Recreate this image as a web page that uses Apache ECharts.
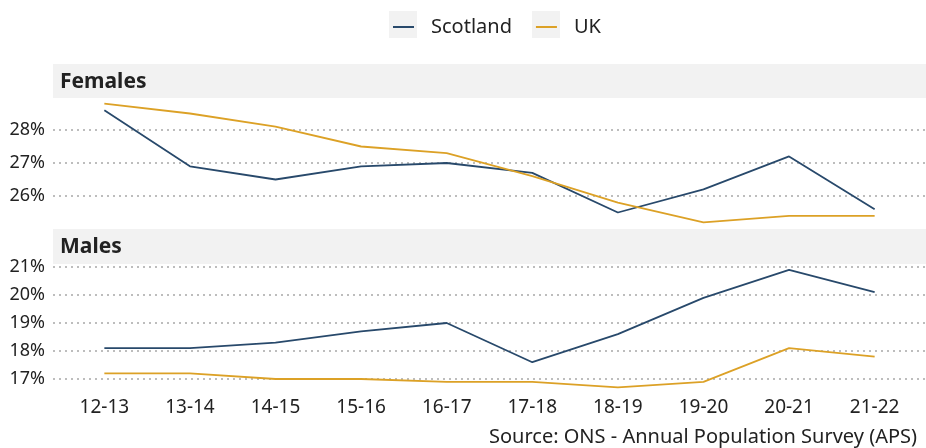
<!DOCTYPE html>
<html>
<head>
<meta charset="utf-8">
<script src="https://cdn.jsdelivr.net/npm/echarts@6/dist/echarts.min.js"></script>
<style>
  html, body { margin: 0; padding: 0; background: #fff; }
  #chart { width: 926px; height: 448px; }
</style>
</head>
<body>
<div id="chart"></div>
<script>
const years = ['12-13', '13-14', '14-15', '15-16', '16-17', '17-18', '18-19', '19-20', '20-21', '21-22'];

const femalesScotland = [28.6, 26.9, 26.5, 26.9, 27.0, 26.7, 25.5, 26.2, 27.2, 25.6];
const femalesUK = [28.8, 28.5, 28.1, 27.5, 27.3, 26.6, 25.8, 25.2, 25.4, 25.4];
const malesScotland = [18.1, 18.1, 18.3, 18.7, 19.0, 17.6, 18.6, 19.9, 20.9, 20.1];
const malesUK = [17.2, 17.2, 17.0, 17.0, 16.9, 16.9, 16.7, 16.9, 18.1, 17.8];

const colors = ['#28496b', '#dca126'];
const fontFamily = '"Noto Sans", sans-serif';

function pairs(values) {
    return values.map((v, i) => [i, v]);
}

const xAxisOptions = {
    type: 'value',
    min: -0.6,
    max: 9.6,
    axisLine: { show: false },
    axisTick: { show: false },
    splitLine: { show: false }
};

const yAxisOptions = {
    type: 'value',
    interval: 1,
    axisLine: { show: false },
    axisTick: { show: false },
    axisLabel: {
        color: '#222',
        fontSize: 18,
        fontFamily,
        margin: 8,
        formatter: v => v + '%'
    },
    splitLine: {
        lineStyle: { color: '#a8a8a8', type: [2, 4], width: 1.5 }
    }
};

const lineOptions = {
    type: 'line',
    showSymbol: false,
    clip: false,
    lineStyle: { width: 1.8 },
    emphasis: { disabled: true }
};

let chartDom = document.getElementById('chart');
let myChart = echarts.init(chartDom);
let option;

option = {
    color: colors,
    animation: false,
    legend: {
        data: ['Scotland', 'UK'],
        left: 388,
        top: 12,
        icon: 'rect',
        itemWidth: 21,
        itemHeight: 2,
        itemGap: 24,
        textStyle: {
            fontSize: 20,
            fontFamily,
            color: '#222',
            padding: [0, 0, 0, 12]
        }
    },
    title: {
        text: 'Source: ONS - Annual Population Survey (APS)',
        right: 4,
        top: 422,
        textStyle: { fontSize: 20, fontWeight: 'normal', fontFamily, color: '#222' }
    },
    graphic: [
        { type: 'rect', z: -1, shape: { x: 389, y: 11, width: 28, height: 27 }, style: { fill: '#f2f2f2' } },
        { type: 'rect', z: -1, shape: { x: 532, y: 11, width: 28, height: 27 }, style: { fill: '#f2f2f2' } },
        { type: 'rect', z: -1, shape: { x: 53, y: 64, width: 873, height: 34 }, style: { fill: '#f2f2f2' } },
        { type: 'rect', z: -1, shape: { x: 53, y: 229, width: 873, height: 35 }, style: { fill: '#f2f2f2' } },
        { type: 'text', left: 60, top: 72, style: { text: 'Females', fontSize: 21, fontWeight: 'bold', fontFamily, fill: '#222' } },
        { type: 'text', left: 60, top: 237, style: { text: 'Males', fontSize: 21, fontWeight: 'bold', fontFamily, fill: '#222' } }
    ],
    grid: [
        { left: 53, right: 0, top: 130, height: 66 },
        { left: 53, right: 0, top: 267, height: 112 }
    ],
    xAxis: [
        { ...xAxisOptions, gridIndex: 0, axisLabel: { show: false } },
        {
            ...xAxisOptions,
            gridIndex: 1,
            axisLabel: {
                customValues: years.map((y, i) => i),
                formatter: v => years[v],
                color: '#222',
                fontSize: 19,
                fontFamily,
                margin: 19
            }
        }
    ],
    yAxis: [
        { ...yAxisOptions, gridIndex: 0, min: 26, max: 28 },
        { ...yAxisOptions, gridIndex: 1, min: 17, max: 21 }
    ],
    series: [
        { ...lineOptions, name: 'Scotland', xAxisIndex: 0, yAxisIndex: 0, data: pairs(femalesScotland) },
        { ...lineOptions, name: 'UK', xAxisIndex: 0, yAxisIndex: 0, data: pairs(femalesUK) },
        { ...lineOptions, name: 'Scotland', xAxisIndex: 1, yAxisIndex: 1, data: pairs(malesScotland) },
        { ...lineOptions, name: 'UK', xAxisIndex: 1, yAxisIndex: 1, data: pairs(malesUK) }
    ]
};

option && myChart.setOption(option);
</script>
</body>
</html>
